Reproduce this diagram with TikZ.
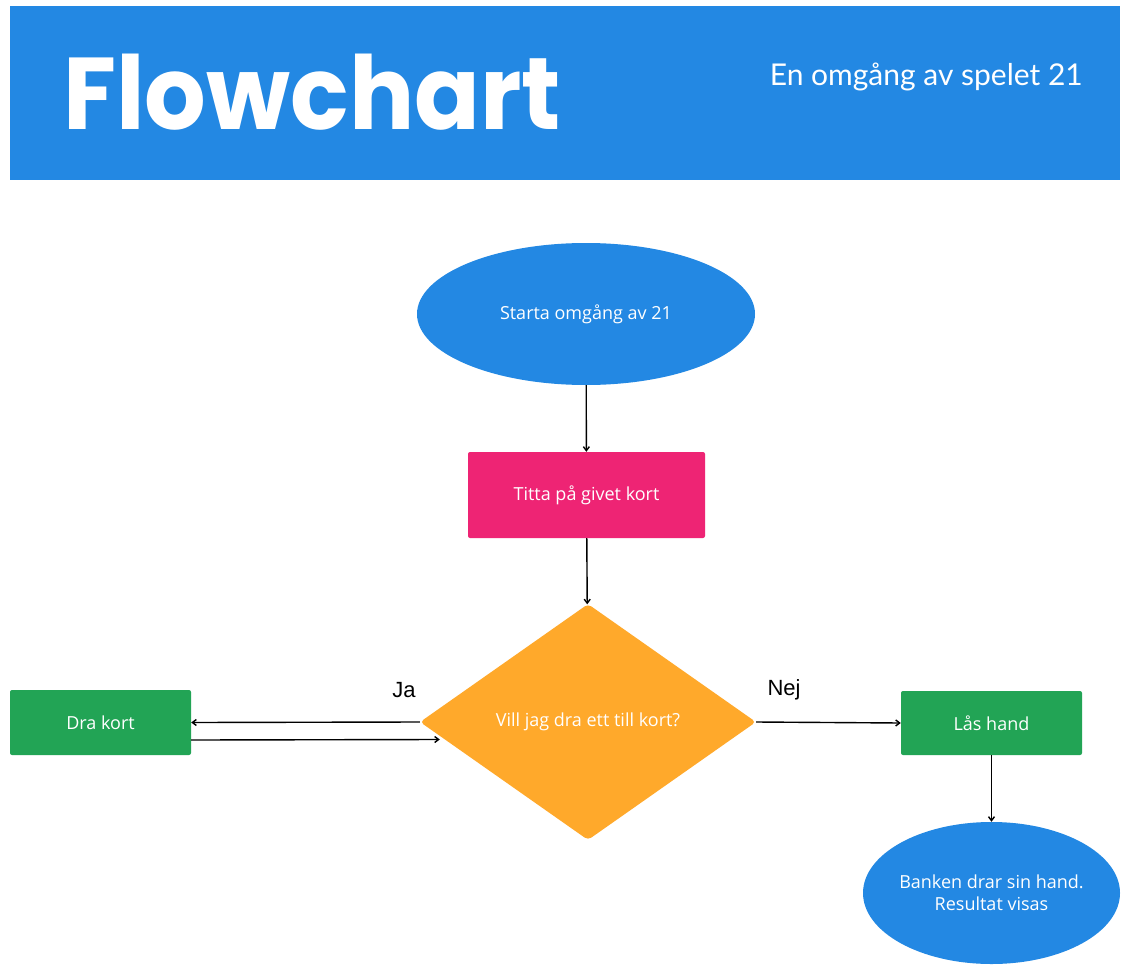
\documentclass[tikz,border=0pt]{standalone}
\usepackage{fontspec}
\setmainfont{Open Sans}
\newfontfamily\titlefont{Poppins}
\newfontfamily\subfont{Lato}
\newfontfamily\labelfont{Liberation Sans}
\usetikzlibrary{shapes.geometric,arrows.meta,calc}
\definecolor{hdrblue}{HTML}{2388E3}
\definecolor{boxpink}{HTML}{EE2474}
\definecolor{decorange}{HTML}{FFA92B}
\definecolor{boxgreen}{HTML}{22A455}
\tikzset{
  x=1pt, y=-1pt,
  nodetext/.style={text=white, font=\fontsize{18}{22}\selectfont, align=center},
  terminal/.style={ellipse, fill=hdrblue, nodetext, inner sep=0pt},
  procbox/.style={rectangle, rounded corners=2pt, nodetext, inner sep=0pt},
  decision/.style={diamond, fill=decorange, nodetext, inner sep=0pt,
    minimum width=336pt, minimum height=236pt, rounded corners=4pt},
  branchlabel/.style={font=\labelfont\fontsize{22}{26}\selectfont, text=black},
  arr/.style={-{Straight Barb[length=4pt,width=6pt]}, line width=1.4pt, black},
}
\begin{document}
\begin{tikzpicture}
\useasboundingbox (0,0) rectangle (1132,971);
\fill[white] (0,0) rectangle (1132,971);

% header band
\node[fill=hdrblue, minimum width=1110pt, minimum height=174pt, inner sep=0pt, anchor=north west] (header) at (10,6) {};
\node[anchor=base west, text=white, inner sep=0pt, font=\titlefont\bfseries\fontsize{102}{110}\selectfont] (title) at (63,130) {\scalebox{0.95}[1]{Flowchart}};
\node[anchor=base east, text=white, inner sep=0pt, font=\subfont\fontsize{30}{34}\selectfont] (subtitle) at (1083,86) {En omgång av spelet 21};

% flow nodes
\node[terminal, minimum width=338pt, minimum height=142pt] (start) at (586,314) {Starta omgång av 21};
\node[procbox, fill=boxpink, minimum width=237pt, minimum height=86pt] (look) at (586.5,495) {Titta på givet kort};
\node[decision] (dia) at (588,722) {Vill jag dra ett till kort?};
\node[procbox, fill=boxgreen, minimum width=181pt, minimum height=65pt] (dra) at (100.5,722.5) {Dra kort};
\node[procbox, fill=boxgreen, minimum width=181pt, minimum height=64pt] (las) at (991.5,723) {Lås hand};
\node[terminal, inner sep=-10pt, minimum width=257pt, minimum height=142pt] (bank) at (991.5,893) {Banken drar sin hand.\\Resultat visas};

% branch labels
\node[branchlabel] (ja) at (404,690) {Ja};
\node[branchlabel] (nej) at (784,690) {Nej};

% connectors
\draw[arr] (start) -- (look);
\draw[arr] (look) -- (dia);
\draw[arr] (dia.west) -- (dra.east);
\coordinate (drout) at ($(dra.east)+(0,17.5)$);
\coordinate (diain) at ($(dia.west)+(20,17.5)$);
\draw[arr] (drout) -- (diain);
\draw[arr] (dia.east) -- (las.west);
\draw[arr] (las) -- (bank);
\end{tikzpicture}
\end{document}
